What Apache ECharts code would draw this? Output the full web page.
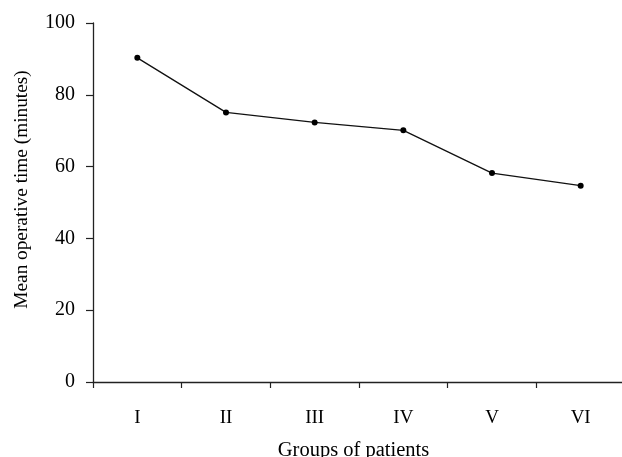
<!DOCTYPE html>
<html>
<head>
<meta charset="utf-8">
<script src="https://cdn.jsdelivr.net/npm/echarts@6/dist/echarts.min.js"></script>
<style>html,body{margin:0;padding:0;background:#fff}#c{width:622px;height:457px}</style>
</head>
<body>
<div id="c"></div>
<script>
const categories = ['I', 'II', 'III', 'IV', 'V', 'VI'];
const meanTime = [90.3, 75.1, 72.3, 70.1, 58.2, 54.7];
const yTicks = { min: 0, max: 100, interval: 20 };

const font = 'Liberation Serif';
const chart = echarts.init(document.getElementById('c'), null, { renderer: 'canvas' });
chart.setOption({
  animation: false,
  backgroundColor: '#fff',
  grid: { left: 93, right: -3, top: 23, bottom: 75, containLabel: false, outerBoundsMode: 'none' },
  xAxis: {
    type: 'category',
    data: categories,
    boundaryGap: true,
    name: 'Groups of patients',
    nameLocation: 'middle',
    nameGap: 58,
    nameTextStyle: { fontFamily: font, fontSize: 20.5, color: '#000', padding: [0, 11, 0, 0] },
    axisLine: { lineStyle: { color: '#222', width: 1.3 } },
    axisTick: { show: true, inside: false, length: 6, alignWithLabel: false, lineStyle: { color: '#222', width: 1.2 } },
    axisLabel: { fontFamily: font, fontSize: 19, color: '#000', margin: 27 },
    splitLine: { show: false }
  },
  yAxis: {
    type: 'value',
    min: yTicks.min, max: yTicks.max, interval: yTicks.interval,
    name: 'Mean operative time (minutes)',
    nameLocation: 'middle',
    nameGap: 62,
    nameRotate: 90,
    nameTextStyle: { fontFamily: font, fontSize: 19.3, color: '#000', padding: [0, 0, 0, 26] },
    axisLine: { show: true, lineStyle: { color: '#222', width: 1.3 } },
    axisTick: { show: true, inside: false, length: 7, lineStyle: { color: '#222', width: 1.2 } },
    axisLabel: { fontFamily: font, fontSize: 20, color: '#000', margin: 18, padding: [5, 0, 0, 0] },
    splitLine: { show: false }
  },
  series: [{
    type: 'line',
    data: meanTime,
    symbol: 'circle',
    symbolSize: 6,
    itemStyle: { color: '#000' },
    lineStyle: { color: '#111', width: 1.3 }
  }]
});
</script>
</body>
</html>
